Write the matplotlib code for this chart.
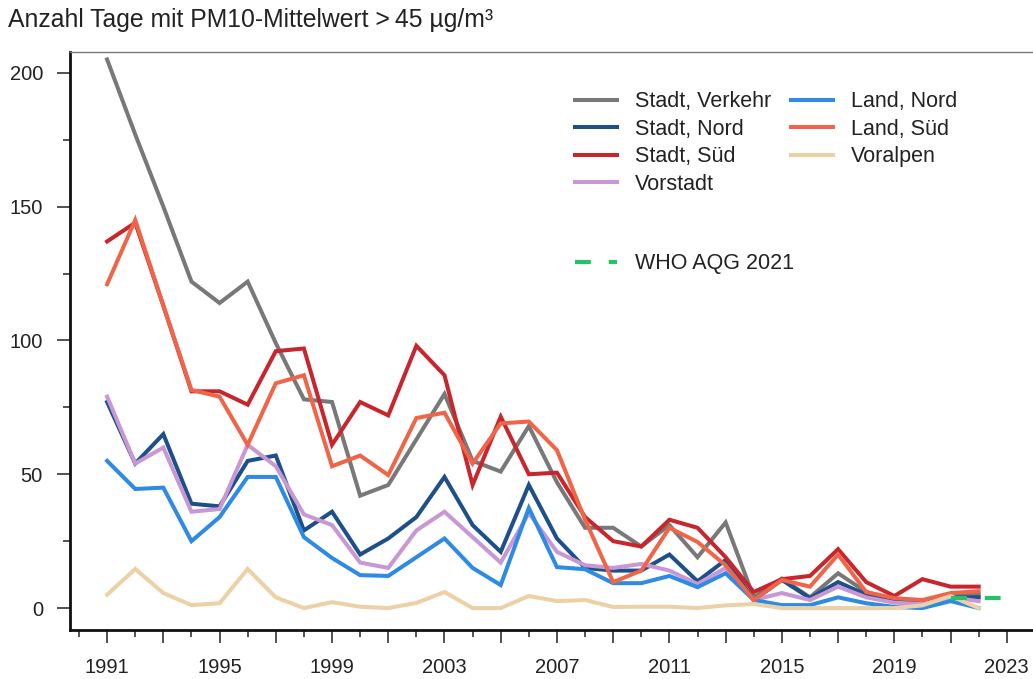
import matplotlib

matplotlib.use("Agg")
import matplotlib.pyplot as plt
from matplotlib.ticker import MultipleLocator
import numpy as np

plt.rcParams["font.family"] = ["Liberation Sans", "DejaVu Sans"]

# Anzahl Tage mit PM10-Tagesmittel > 45 µg/m³ je Stationstyp
years = np.arange(1991, 2023)

stadt_verkehr = [205, 177, 150, 122, 114, 122, 99, 78, 77, 42, 46, 63, 80, 55, 51, 68, 47, 30, 30, 23, 31, 19, 32, 4,
                 11, 4, 13, 6, 3, 2, 5, 5]
stadt_nord = [77, 54, 65, 39, 38, 55, 57, 29, 36, 20, 26, 34, 49, 31, 21, 46, 26, 15, 14, 14, 20, 10, 18, 3,
              10.5, 3.7, 9.7, 5, 2.5, 2, 4, 4]
stadt_sued = [137, 144, 113, 81, 81, 76, 96, 97, 61, 77, 72, 98, 87, 46, 71.5, 50, 50.6, 34, 25, 23, 33, 30, 19, 6,
              10.8, 12, 22, 9.7, 4.5, 10.8, 8, 8]
vorstadt = [79, 54, 60, 36, 37, 61, 53, 35, 31, 17, 15, 29, 36, 26.5, 17, 35.5, 21, 16, 15, 16.5, 14, 9, 15, 3,
            5.6, 3, 8, 4, 2, 1.5, 4, 2.6]
land_nord = [55, 44.5, 45, 25, 34, 49, 49, 26.5, 18.7, 12.3, 12, 19, 26, 15, 8.6, 37.4, 15.3, 14.5, 9.3, 9.3, 12,
             7.8, 13, 3, 1.1, 1.1, 4, 1.8, 0.4, 0, 2.6, 0]
land_sued = [121, 145, 113, 81.5, 79, 61, 84, 87, 53, 57, 49.7, 71, 73, 54, 69, 69.7, 59, 33, 9.7, 14, 30, 24.7,
             16, 3, 10.5, 8, 20, 6, 3.7, 3, 5.6, 6.3]
voralpen = [5, 14.6, 5.6, 1.1, 1.8, 14.6, 4, 0, 2.2, 0.5, 0, 1.9, 6, 0, 0, 4.5, 2.6, 3, 0.4, 0.5, 0.5, 0, 1, 1.5,
            0, 0, 0, 0, 0, 1, 4.5, 0]

who_years = [2021, 2023]
who_days = [3.65, 3.65]

series = [
    ("Stadt, Verkehr", stadt_verkehr, "#787878"),
    ("Stadt, Nord", stadt_nord, "#1d4f8b"),
    ("Stadt, Süd", stadt_sued, "#c9252d"),
    ("Vorstadt", vorstadt, "#c897d4"),
    ("Land, Nord", land_nord, "#2e8be3"),
    ("Land, Süd", land_sued, "#f06548"),
    ("Voralpen", voralpen, "#ecd1a6"),
]

fig = plt.figure(figsize=(10.33, 6.79), dpi=100)
ax = fig.add_axes([70 / 1033, 1 - 630 / 679, 1 - 70 / 1033 + 0.01, (630 - 52) / 679])

handles = []
for label, values, color in series:
    (line,) = ax.plot(years, values, color=color, lw=2.9, label=label, solid_joinstyle="miter")
    handles.append(line)

(who_line,) = ax.plot(who_years, who_days, color="#22c46a", lw=3.0, ls=(0, (3.8, 4.3)),
                      dash_capstyle="butt", label="WHO AQG 2021", zorder=5)

ax.set_xlim(1989.68, 2024.3)
ax.set_ylim(-8.2, 207.8)

ax.xaxis.set_minor_locator(MultipleLocator(1))
ax.set_xticks(np.arange(1991, 2024, 2))
ax.set_xticklabels([str(y) if (y - 1991) % 4 == 0 else "" for y in range(1991, 2024, 2)])
ax.yaxis.set_major_locator(MultipleLocator(50))
ax.yaxis.set_minor_locator(MultipleLocator(25))

ax.tick_params(which="major", direction="out", length=9.5, width=1.2, color="#333333",
               labelsize=14.5, labelcolor="#222222")
ax.tick_params(which="minor", direction="out", length=5, width=1.2, color="#333333")
ax.tick_params(axis="y", which="major", pad=10)
ax.tick_params(axis="x", which="major", pad=11)

for side in ("left", "bottom"):
    ax.spines[side].set_linewidth(2.0)
    ax.spines[side].set_color("#111111")
ax.spines["top"].set_linewidth(1.0)
ax.spines["top"].set_color("#777777")
ax.spines["right"].set_visible(False)

leg = ax.legend(handles=handles, ncol=2, loc="upper left",
                bbox_to_anchor=(575 / 1033, 1 - 91.5 / 679), bbox_transform=fig.transFigure,
                frameon=False, fontsize=15.5, handlelength=1.95, handletextpad=0.85,
                columnspacing=0.9, labelspacing=0.3, borderpad=0, borderaxespad=0)
for text in leg.get_texts():
    text.set_color("#222222")
ax.add_artist(leg)

leg2 = ax.legend(handles=[who_line], loc="upper left",
                 bbox_to_anchor=(575 / 1033, 1 - 253.5 / 679), bbox_transform=fig.transFigure,
                 frameon=False, fontsize=15.5, handlelength=1.95, handletextpad=0.85,
                 borderpad=0, borderaxespad=0)
leg2.get_texts()[0].set_color("#222222")

fig.text(8 / 1033, 1 - 20 / 679, "Anzahl Tage mit PM10-Mittelwert >\u200945 µg/m³",
         fontsize=17.8, color="#222222", va="center", ha="left")

fig.savefig("out.png", dpi=100)
